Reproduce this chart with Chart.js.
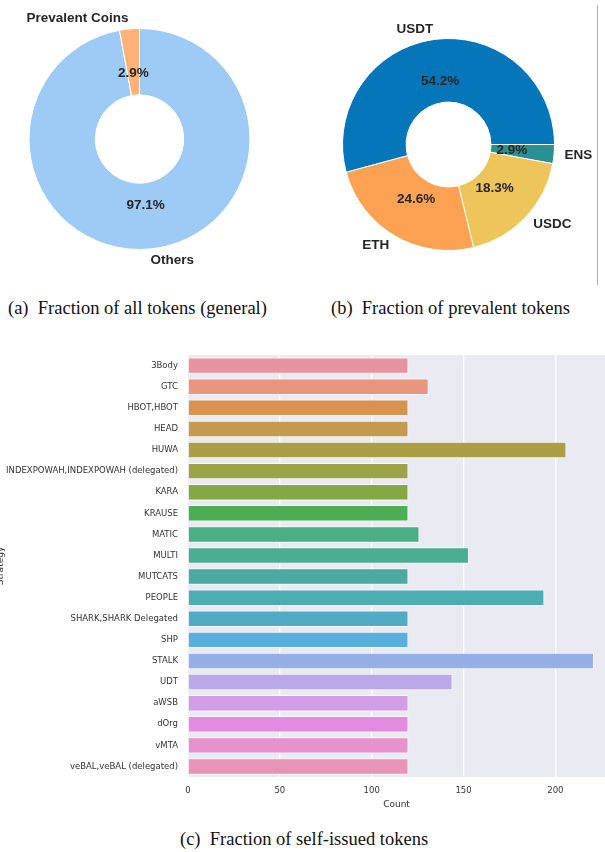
<!DOCTYPE html>
<html>
<head>
<meta charset="utf-8">
<script src="https://cdn.jsdelivr.net/npm/chart.js@4.4.1/dist/chart.umd.min.js"></script>
<style>
  body { margin: 0; width: 605px; height: 852px; background: #fff; position: relative; overflow: hidden; }
  .caja { position: absolute; }
  .caption { position: absolute; font-family: "Liberation Serif", "DejaVu Serif", serif; font-size: 18.5px; color: #111; white-space: nowrap; line-height: 20px; }
  .linea { position: absolute; left: 597px; top: 5px; width: 1px; height: 280px; background: #b0b0b0; }
</style>
</head>
<body>
<div class="caja" style="left:0;top:0;width:290px;height:290px"><canvas id="chartTodos"></canvas></div>
<div class="caja" style="left:300px;top:0;width:295px;height:290px"><canvas id="chartPrevalentes"></canvas></div>
<div class="linea"></div>
<div class="caption" style="left:8px;top:298px">(a)&nbsp; Fraction of all tokens (general)</div>
<div class="caption" style="left:331px;top:298px">(b)&nbsp; Fraction of prevalent tokens</div>
<div class="caja" style="left:-5px;top:340px;width:610px;height:470px"><canvas id="chartEstrategias"></canvas></div>
<div class="caption" style="left:180px;top:829px">(c)&nbsp; Fraction of self-issued tokens</div>
<script>
// Datos de los graficos
const tokenCategories = ["Others", "Prevalent Coins"];
const tokenShares = [97.1, 2.9];
const tokenColors = ["#9DCBF6", "#FFB278"];

const prevalentCoins = ["ENS", "USDC", "ETH", "USDT"];
const prevalentShares = [2.9, 18.3, 24.6, 54.2];
const prevalentColors = ["#2A9192", "#EEC55B", "#FDA152", "#0576B9"];

const strategies = ["3Body", "GTC", "HBOT,HBOT", "HEAD", "HUWA", "INDEXPOWAH,INDEXPOWAH (delegated)",
    "KARA", "KRAUSE", "MATIC", "MULTI", "MUTCATS", "PEOPLE", "SHARK,SHARK Delegated", "SHP",
    "STALK", "UDT", "aWSB", "dOrg", "vMTA", "veBAL,veBAL (delegated)"];
const strategyCounts = [120, 131, 120, 120, 206, 120, 120, 120, 126, 153, 120, 194, 120, 120, 221, 144, 120, 120, 120, 120];
const strategyColors = ["#E8949F", "#E8967F", "#D8944E", "#C49A4E", "#AC9E47", "#9CA248",
    "#84A943", "#4BAE55", "#4BAE84", "#4BAE93", "#4CAAA0", "#4EADB3", "#4FACC4", "#5AB0DC",
    "#95AFE7", "#B9A9EB", "#D19DE6", "#E38BE0", "#E791CF", "#E893B8"];
const countTicks = [0, 50, 100, 150, 200];

const labelFont = "bold 13.5px 'Liberation Sans', Arial, sans-serif";

// Plugin para etiquetas de porcentaje y nombres (estilo matplotlib)
const etiquetasPlugin = {
    id: "etiquetas",
    afterDatasetsDraw(chart) {
        const ctx = chart.ctx;
        const meta = chart.getDatasetMeta(0);
        const valores = chart.data.datasets[0].data;
        ctx.save();
        ctx.font = labelFont;
        ctx.fillStyle = "#262626";
        ctx.textBaseline = "middle";
        meta.data.forEach((arc, i) => {
            const p = arc.getProps(["x", "y", "startAngle", "endAngle", "outerRadius"], true);
            const mid = (p.startAngle + p.endAngle) / 2;
            const c = Math.cos(mid), s = Math.sin(mid);
            // Porcentaje a 0.6 del radio
            ctx.textAlign = "center";
            ctx.fillText(valores[i].toFixed(1) + "%", p.x + 0.6 * p.outerRadius * c, p.y + 0.6 * p.outerRadius * s);
            // Nombre a 1.1 del radio
            ctx.textAlign = c > 0 ? "left" : "right";
            ctx.fillText(chart.data.labels[i], p.x + 1.1 * p.outerRadius * c, p.y + 1.1 * p.outerRadius * s);
        });
        ctx.restore();
    }
};

function crearDona(id, labels, datos, colores, rotacion, padding) {
    return new Chart(document.getElementById(id), {
        type: "doughnut",
        data: {
            labels: labels,
            datasets: [{
                data: datos,
                backgroundColor: colores,
                borderColor: "#ffffff",
                borderWidth: 1,
                hoverBorderWidth: 1,
                hoverOffset: 0,
            }],
        },
        options: {
            responsive: true,
            maintainAspectRatio: false,
            animation: false,
            cutout: "40%",
            rotation: rotacion,
            layout: { padding: padding },
            plugins: { legend: { display: false }, tooltip: { enabled: false } },
        },
        plugins: [etiquetasPlugin],
    });
}

crearDona("chartTodos", tokenCategories, tokenShares, tokenColors, 0,
    { left: 28, top: 28, right: 39, bottom: 40 });
crearDona("chartPrevalentes", prevalentCoins, prevalentShares, prevalentColors, 90,
    { left: 42, top: 38, right: 40, bottom: 39 });

// Fondo gris del area de trazado (seaborn darkgrid)
const fondoPlugin = {
    id: "fondo",
    beforeDraw(chart) {
        const { ctx, chartArea } = chart;
        ctx.save();
        ctx.fillStyle = "#EAEAF2";
        ctx.fillRect(chartArea.left, chartArea.top, chartArea.right - chartArea.left, chartArea.bottom - chartArea.top);
        ctx.restore();
    }
};

const tickFont = { family: "'DejaVu Sans', sans-serif", size: 8.5 };

new Chart(document.getElementById("chartEstrategias"), {
    type: "bar",
    data: {
        labels: strategies,
        datasets: [{
            data: strategyCounts,
            backgroundColor: strategyColors,
            borderColor: "rgba(255,255,255,0.75)",
            borderWidth: 1,
            barPercentage: 0.78,
            categoryPercentage: 1,
        }],
    },
    options: {
        indexAxis: "y",
        responsive: true,
        maintainAspectRatio: false,
        animation: false,
        layout: { padding: { top: 13, right: 0, bottom: 0, left: 0 } },
        plugins: { legend: { display: false }, tooltip: { enabled: false } },
        scales: {
            x: {
                min: 0,
                max: 227,
                afterFit: (scale) => { scale.height = 33; },
                afterBuildTicks: (scale) => { scale.ticks = countTicks.map(v => ({ value: v })); },
                ticks: { color: "#333", font: tickFont, padding: 9, maxRotation: 0 },
                grid: { color: "#ffffff", lineWidth: 1.3, drawTicks: false },
                border: { display: false },
                title: { display: true, text: "Count", color: "#333", font: { family: "'DejaVu Sans', sans-serif", size: 9 }, padding: 0 },
            },
            y: {
                afterFit: (scale) => { scale.width = 193; },
                ticks: { color: "#333", font: tickFont, padding: 10 },
                grid: { display: false, drawTicks: false },
                border: { display: false },
                title: { display: true, text: "Strategy", color: "#333", font: { family: "'DejaVu Sans', sans-serif", size: 9 }, padding: 0 },
            },
        },
    },
    plugins: [fondoPlugin],
});
</script>
</body>
</html>
